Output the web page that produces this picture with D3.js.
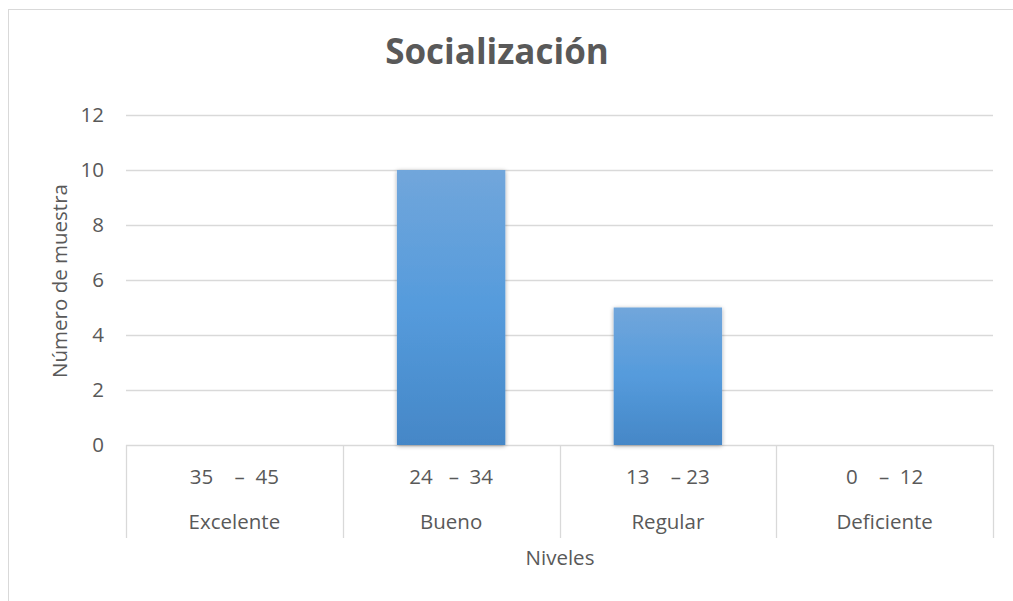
<!DOCTYPE html>
<html>
<head>
<meta charset="utf-8">
<script src="https://cdn.jsdelivr.net/npm/d3@7"></script>
<style>
  body { margin: 0; background: #fff; }
  text { font-family: "Open Sans", Lato, sans-serif; fill: #595959; white-space: pre; }
</style>
</head>
<body>
<div id="chart"></div>
<script>
var niveles = ["Excelente", "Bueno", "Regular", "Deficiente"];
var rangos = ["35\u00a0\u00a0\u00a0\u00a0\u2013\u00a0\u00a045", "24\u00a0\u00a0\u00a0\u2013\u00a0\u00a034", "13\u00a0\u00a0\u00a0\u00a0\u2013\u00a023", "0\u00a0\u00a0\u00a0\u00a0\u2013\u00a0\u00a012"];
var valores = [0, 10, 5, 0];
var yTicks = [0, 2, 4, 6, 8, 10, 12];

var W = 1013, H = 601;
var margin = { top: 115, right: 20, bottom: 156, left: 126 },
  width = 993 - margin.left,
  height = 445 - margin.top;

var svg = d3.select("#chart").append("svg")
  .attr("width", W)
  .attr("height", H);

// outer chart border
svg.append("rect")
  .attr("x", 8.5).attr("y", 9.5)
  .attr("width", W + 10).attr("height", H + 10)
  .attr("fill", "none").attr("stroke", "#d9d9d9");

var defs = svg.append("defs");
var grad = defs.append("linearGradient")
  .attr("id", "barGrad").attr("x1", 0).attr("y1", 0).attr("x2", 0).attr("y2", 1);
grad.append("stop").attr("offset", "0%").attr("stop-color", "#71a6db");
grad.append("stop").attr("offset", "50%").attr("stop-color", "#559bdc");
grad.append("stop").attr("offset", "100%").attr("stop-color", "#4587c7");

var shadow = defs.append("filter").attr("id", "shadow")
  .attr("x", "-20%").attr("y", "-5%").attr("width", "140%").attr("height", "110%");
shadow.append("feDropShadow")
  .attr("dx", 0).attr("dy", 1).attr("stdDeviation", 2)
  .attr("flood-color", "#000").attr("flood-opacity", 0.35);

var g = svg.append("g")
  .attr("transform", "translate(" + margin.left + "," + margin.top + ")");

var x = d3.scaleBand().domain(niveles).range([0, width]).paddingInner(0).paddingOuter(0);
var y = d3.scaleLinear().domain([0, 12]).range([height, 0]);

var fs = "20.5px";

// gridlines
g.append("g").selectAll("line")
  .data(yTicks)
  .enter().append("line")
  .attr("x1", 0).attr("x2", width)
  .attr("y1", function (d) { return Math.round(y(d)) + 0.5; })
  .attr("y2", function (d) { return Math.round(y(d)) + 0.5; })
  .attr("stroke", "#d9d9d9").attr("stroke-width", 1.3);

// y tick labels
g.append("g").selectAll("text")
  .data(yTicks)
  .enter().append("text")
  .attr("x", -22)
  .attr("y", function (d) { return y(d); })
  .attr("dy", "0.35em")
  .attr("text-anchor", "end")
  .style("font-size", fs)
  .text(function (d) { return d; });

// bars
var bw = x.bandwidth() * 0.5;
g.append("g").selectAll("rect")
  .data(valores)
  .enter().append("rect")
  .filter(function (d) { return d > 0; })
  .attr("x", function (d) { return x(niveles[valores.indexOf(d)]) + (x.bandwidth() - bw) / 2; })
  .attr("y", function (d) { return y(d); })
  .attr("width", bw)
  .attr("height", function (d) { return height - y(d); })
  .attr("fill", "url(#barGrad)")
  .attr("filter", "url(#shadow)");

// category axis separators
var seps = niveles.map(function (d) { return x(d); }).concat([width]);
g.append("g").selectAll("line")
  .data(seps)
  .enter().append("line")
  .attr("x1", function (d) { return Math.round(d) + 0.5; })
  .attr("x2", function (d) { return Math.round(d) + 0.5; })
  .attr("y1", height)
  .attr("y2", height + 93)
  .attr("stroke", "#d9d9d9").attr("stroke-width", 1.3);

// range labels
g.append("g").selectAll("text")
  .data(rangos)
  .enter().append("text")
  .attr("x", function (d, i) { return x(niveles[i]) + x.bandwidth() / 2; })
  .attr("y", height + 32)
  .attr("dy", "0.35em")
  .attr("text-anchor", "middle")
  .style("font-size", fs)
  .text(function (d) { return d; });

// level labels
g.append("g").selectAll("text")
  .data(niveles)
  .enter().append("text")
  .attr("x", function (d) { return x(d) + x.bandwidth() / 2; })
  .attr("y", height + 77)
  .attr("dy", "0.35em")
  .attr("text-anchor", "middle")
  .style("font-size", fs)
  .text(function (d) { return d; });

// axis titles
svg.append("text")
  .attr("x", 560).attr("y", 558)
  .attr("dy", "0.35em")
  .attr("text-anchor", "middle")
  .style("font-size", fs)
  .text("Niveles");

svg.append("text")
  .attr("transform", "translate(60,281) rotate(-90)")
  .attr("dy", "0.35em")
  .attr("text-anchor", "middle")
  .style("font-size", fs)
  .text("Número de muestra");

// chart title
svg.append("text")
  .attr("x", 497).attr("y", 52)
  .attr("dy", "0.35em")
  .attr("text-anchor", "middle")
  .style("font-size", "35px")
  .style("font-weight", "bold")
  .text("Socialización");
</script>
</body>
</html>
